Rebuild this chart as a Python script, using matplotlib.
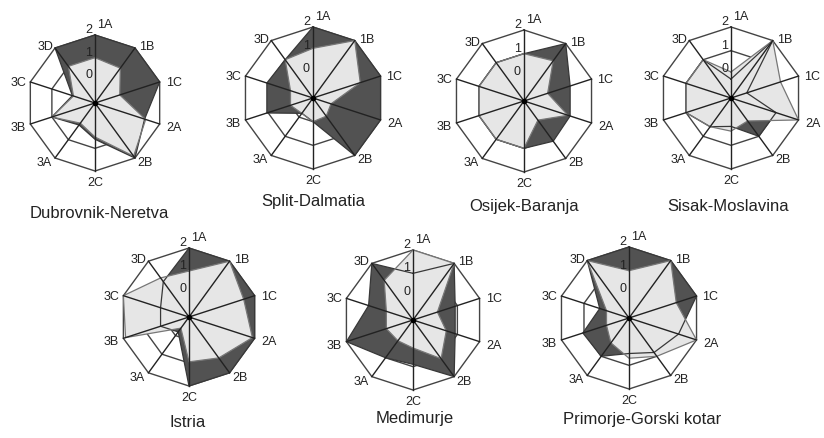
import numpy as np
import matplotlib
matplotlib.use("Agg")
import matplotlib.pyplot as plt

plt.rcParams["font.family"] = ["Liberation Sans", "DejaVu Sans"]

# spokes, clockwise from the top
axis_labels = ["1A", "1B", "1C", "2A", "2B", "2C", "3A", "3B", "3C", "3D"]
ring_values = [0, 1, 2]
ring_labels = ["0", "1", "2"]

regions = ["Dubrovnik-Neretva", "Split-Dalmatia", "Osijek-Baranja", "Sisak-Moslavina",
           "Istria", "Medimurje", "Primorje-Gorski kotar"]

# dark series (drawn first) and light series (drawn on top), scale -1..2
dubrovnik_dark = [2, 2, 2, 1.3, 2, 0.6, 0.2, 1.0, 0.05, 2]
dubrovnik_light = [1, 0.9, 0.15, 1.35, 1.9, 0.5, 0.1, 1.0, 0.0, 1.0]

split_dark = [2, 2, 2, 2, 2, 0.0, -0.2, 1.05, 1.05, 1.0]
split_light = [1.1, 2, 1.1, -0.2, -0.05, 0.0, -0.2, 0.0, 0.0, 1.0]

osijek_dark = [1, 2, 1.05, 1.05, 1.1, 1, 1, 1, 1, 1]
osijek_light = [1, 1.1, 0.05, 0.95, 0.0, 1, 1, 1, 1, 1]

sisak_dark = [-0.2, 2, -0.3, 1.0, 1.0, 0.2, 0.5, 1, 1, 1]
sisak_light = [0.1, 2, 1.2, 2, 0.2, 0.4, 0.5, 1, 1, 1]

istria_dark = [2, 2, 2, 2, 2, 2, -0.2, 0.3, 0.3, 0.9]
istria_light = [1.0, 2, 1.5, 1.9, 1.2, 0.95, -0.4, 1.9, 2, 1.1]

medimurje_dark = [1, 2, 0.9, 0.9, 2, 0.9, 1.0, 2, 1.0, 2]
medimurje_light = [2, 2, 0.1, 0.5, 1.05, 0.2, 0.1, 0.2, 0.2, 1.1]

primorje_dark = [2, 2, 2, 1.2, 0.8, 0.5, 1.0, 1.05, 0.3, 2]
primorje_light = [1, 2, 1.1, 2, 1.0, 0.7, 0.3, 0.0, 0.0, 2]

dark_series = [dubrovnik_dark, split_dark, osijek_dark, sisak_dark,
               istria_dark, medimurje_dark, primorje_dark]
light_series = [dubrovnik_light, split_light, osijek_light, sisak_light,
                istria_light, medimurje_light, primorje_light]

W, H = 824, 439
# chart centre x, centre y, radius, title x, title y (pixels from top-left)
layout = [(95, 104, 68, 99, 213), (313, 99, 71, 313, 202), (524, 102, 71, 524, 207),
          (731, 99, 71, 728, 207), (189, 318, 69, 188, 423), (413, 321, 70, 415, 419),
          (629, 319, 71, 642, 420)]
label_offsets = [(10, 11), (12, 2), (14, 0), (14, -3), (10, -4), (0, -11),
                 (-11, -4), (-12, -3), (-12, 0), (-10, 2)]

theta = np.linspace(0, 2 * np.pi, len(axis_labels), endpoint=False)
theta_c = np.append(theta, theta[0])

fig = plt.figure(figsize=(W / 100, H / 100), dpi=100)

for name, dark, light, (cx, cy, R, tx, ty) in zip(regions, dark_series, light_series, layout):
    ax = fig.add_axes([(cx - R) / W, 1 - (cy + R) / H, 2 * R / W, 2 * R / H], projection="polar")
    ax.set_theta_zero_location("N")
    ax.set_theta_direction(-1)
    ax.set_ylim(-1, 2)
    ax.set_axis_off()

    for v in ring_values:
        ax.plot(theta_c, [v] * len(theta_c), color="#444444", lw=1.0, zorder=1, clip_on=False)

    d = np.append(dark, dark[0])
    l = np.append(light, light[0])
    ax.fill(theta_c, d, color="#525252", lw=0, zorder=2, clip_on=False)
    ax.fill(theta_c, l, color="#e6e6e6", lw=0, zorder=3, clip_on=False)
    ax.plot(theta_c, d, color="#383838", lw=0.9, zorder=4, clip_on=False)
    ax.plot(theta_c, l, color="#777777", lw=0.9, zorder=4, clip_on=False)

    for t in theta:
        ax.plot([t, t], [-1, 2], color="#222222", lw=1.0, zorder=5, clip_on=False)
    ax.plot([0], [-1], "o", ms=3, color="black", zorder=6, clip_on=False)

    for t, lab, (dx, dy) in zip(theta, axis_labels, label_offsets):
        ax.annotate(lab, xy=(t, 2), xytext=(dx, dy), textcoords="offset pixels",
                    ha="center", va="center", fontsize=9, color="#222222",
                    annotation_clip=False)
    for v, lab in zip(ring_values, ring_labels):
        ax.annotate(lab, xy=(0, v), xytext=(-3, 6), textcoords="offset pixels",
                    ha="right", va="center", fontsize=9, color="#222222",
                    annotation_clip=False, zorder=7)

    fig.text(tx / W, 1 - ty / H, name, ha="center", va="center", fontsize=12, color="#222222")

fig.savefig("out.png", dpi=100)
